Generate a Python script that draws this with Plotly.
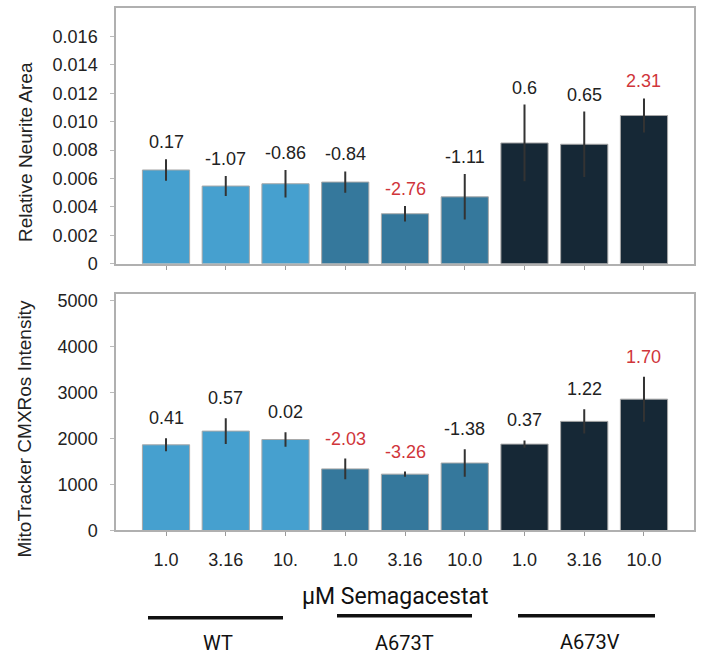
import plotly.graph_objects as go

# ---- data ----
groups = ["WT", "WT", "WT", "A673T", "A673T", "A673T", "A673V", "A673V", "A673V"]
dose_labels = ["1.0", "3.16", "10.", "1.0", "3.16", "10.0", "1.0", "3.16", "10.0"]

neurite = [0.0066, 0.00547, 0.00563, 0.00575, 0.00352, 0.00471, 0.0085, 0.00841, 0.01043]
neurite_err = [0.00075, 0.0007, 0.00097, 0.00075, 0.00055, 0.0016, 0.0027, 0.0023, 0.0012]
neurite_labels = ["0.17", "-1.07", "-0.86", "-0.84", "-2.76", "-1.11", "0.6", "0.65", "2.31"]
neurite_sig = [False, False, False, False, True, False, False, False, True]

mito = [1864, 2162, 1979, 1340, 1226, 1468, 1879, 2374, 2857]
mito_err = [140, 280, 160, 225, 55, 300, 80, 265, 490]
mito_labels = ["0.41", "0.57", "0.02", "-2.03", "-3.26", "-1.38", "0.37", "1.22", "1.70"]
mito_sig = [False, False, False, True, True, False, False, False, True]

neurite_ticks = [0, 0.002, 0.004, 0.006, 0.008, 0.010, 0.012, 0.014, 0.016]
neurite_ticktext = ["0", "0.002", "0.004", "0.006", "0.008", "0.010", "0.012", "0.014", "0.016"]
mito_ticks = [0, 1000, 2000, 3000, 4000, 5000]

group_names = ["WT", "A673T", "A673V"]
group_colors = {"WT": "#46a0cf", "A673T": "#35789c", "A673V": "#162836"}

# ---- figure ----
W, H = 701, 666
xpos = list(range(len(groups)))
colors = [group_colors[g] for g in groups]
bar_line = dict(color="#a8a8a8", width=1)

fig = go.Figure()
fig.add_trace(go.Bar(
    x=xpos, y=neurite, marker=dict(color=colors, line=bar_line), width=0.79,
    error_y=dict(type="data", array=neurite_err, color="#333333", thickness=2, width=0),
    xaxis="x", yaxis="y", showlegend=False))
fig.add_trace(go.Bar(
    x=xpos, y=mito, marker=dict(color=colors, line=bar_line), width=0.79,
    error_y=dict(type="data", array=mito_err, color="#333333", thickness=2, width=0),
    xaxis="x2", yaxis="y2", showlegend=False))

def px_x(p):
    return p / W

def px_y(p):
    return 1 - p / H

xdom = [px_x(116), px_x(694)]
font_main = "Liberation Sans, Arial, sans-serif"
frame = "#b0b0b0"

common_x = dict(range=[-0.837, 8.837], showline=True, linecolor=frame, linewidth=1.5,
                mirror=True, ticks="outside", ticklen=4, tickcolor="#999999",
                tickvals=xpos, showgrid=False, zeroline=False, fixedrange=True)
common_y = dict(showline=True, linecolor=frame, linewidth=1.5, mirror=True,
                ticks="outside", ticklen=4, tickcolor="#bbbbbb", showgrid=False,
                zeroline=False, tickfont=dict(size=18, color="#222222", family=font_main),
                ticklabelstandoff=9)

fig.update_layout(
    width=W, height=H, margin=dict(l=0, r=0, t=0, b=0),
    paper_bgcolor="white", plot_bgcolor="white", bargap=0.2,
    font=dict(family=font_main, color="#222222"),
    xaxis=dict(domain=xdom, anchor="y", showticklabels=False, **common_x),
    yaxis=dict(domain=[px_y(266), px_y(5)], range=[0, 0.018], tickvals=neurite_ticks,
               ticktext=neurite_ticktext, anchor="x", **common_y),
    xaxis2=dict(domain=xdom, anchor="y2", ticktext=dose_labels,
                tickfont=dict(size=18, color="#222222", family=font_main),
                ticklabelstandoff=8, **common_x),
    yaxis2=dict(domain=[px_y(538), px_y(297)], range=[0, 5140], tickvals=mito_ticks,
                anchor="x2", **common_y),
)

# value labels above error bars
for i in xpos:
    fig.add_annotation(x=i, y=neurite[i] + neurite_err[i], xref="x", yref="y",
                       text=neurite_labels[i], showarrow=False, xanchor="center",
                       yanchor="bottom", yshift=5,
                       font=dict(size=18, color="#d0353a" if neurite_sig[i] else "#222222"))
    fig.add_annotation(x=i, y=mito[i] + mito_err[i], xref="x2", yref="y2",
                       text=mito_labels[i], showarrow=False, xanchor="center",
                       yanchor="bottom", yshift=8,
                       font=dict(size=18, color="#d0353a" if mito_sig[i] else "#222222"))

def paper_text(x, y, text, size, family=font_main, color="#222222", angle=0):
    fig.add_annotation(x=px_x(x), y=px_y(y), xref="paper", yref="paper", text=text,
                       textangle=angle, showarrow=False, xanchor="center", yanchor="middle",
                       font=dict(size=size, color=color, family=family))

# y-axis titles
paper_text(25, 152, "Relative Neurite Area", 19, angle=-90)
paper_text(25, 435, "MitoTracker CMXRos Intensity", 19, angle=-90)

# x title and group labels
narrow = "Liberation Sans Narrow, Roboto, sans-serif"
paper_text(395, 605, "µM Semagacestat", 23, family=narrow, color="#111111")

group_lines = [(148, 283, 627), (337, 472, 625), (518, 655, 625)]
group_text = [(218, 653), (405, 653), (590, 652)]
for name, (x0, x1, yl), (tx, ty) in zip(group_names, group_lines, group_text):
    fig.add_shape(type="line", xref="paper", yref="paper", x0=px_x(x0), x1=px_x(x1),
                  y0=px_y(yl), y1=px_y(yl), line=dict(color="#111111", width=3.5))
    paper_text(tx, ty, name, 20, family=narrow, color="#111111")

# remove the default 8px page margin so the figure fills the window exactly
fig.write_html("out.html", config={"displayModeBar": False},
               post_script="document.body.style.margin='0px';")
